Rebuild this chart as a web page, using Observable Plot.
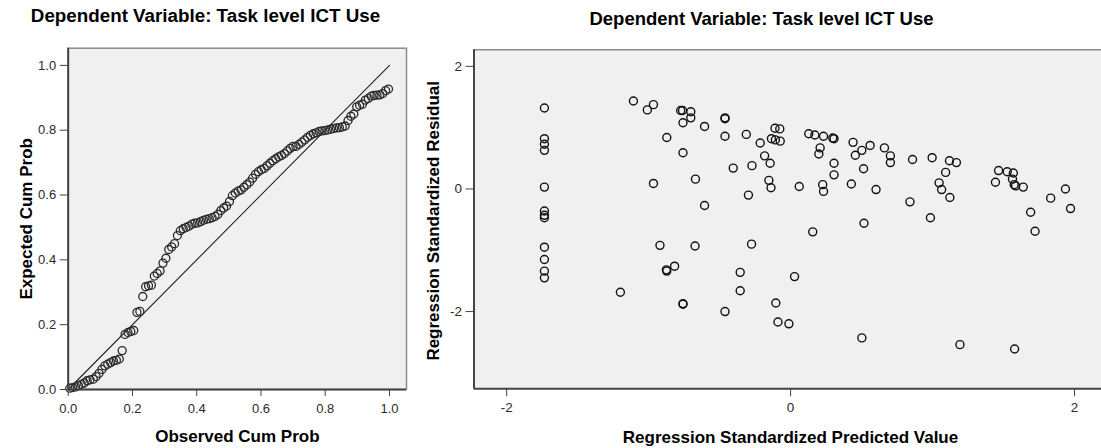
<!DOCTYPE html>
<html>
<head>
<meta charset="utf-8">
<script src="https://cdn.jsdelivr.net/npm/d3@7"></script>
<script src="https://cdn.jsdelivr.net/npm/@observablehq/plot@0.6"></script>
<style>
  html, body { margin: 0; padding: 0; background: #fff; }
  #wrap { position: relative; width: 1101px; height: 448px; overflow: hidden; background: #fff; }
  #left { position: absolute; left: 0; top: 0; }
  #right { position: absolute; left: 420px; top: 0; }
</style>
</head>
<body>
<div id="wrap"><div id="left"></div><div id="right"></div></div>
<script>
const chartTitle = "Dependent Variable: Task level ICT Use";
const ppXLabel = "Observed Cum Prob";
const ppYLabel = "Expected Cum Prob";
const scXLabel = "Regression Standardized Predicted Value";
const scYLabel = "Regression Standardized Residual";

const ppTicks = [0, 0.2, 0.4, 0.6, 0.8, 1.0];
const scXTicks = [-2, 0, 2];
const scYTicks = [-2, 0, 2];
const refLine = [0, 1];

const ppObserved = [
  0.005, 0.014, 0.023, 0.032, 0.041, 0.050, 0.059, 0.068, 0.078, 0.087, 0.096,
  0.105, 0.114, 0.123, 0.132, 0.141, 0.150, 0.159, 0.168,
  0.177, 0.186, 0.195, 0.204,
  0.214, 0.223,
  0.232, 0.241, 0.250, 0.259, 0.268, 0.277, 0.286, 0.295, 0.304, 0.313, 0.322, 0.331, 0.340,
  0.349, 0.358, 0.367, 0.376, 0.385, 0.394, 0.403, 0.412, 0.421, 0.430, 0.439, 0.448, 0.457, 0.466, 0.475, 0.484, 0.493, 0.502,
  0.511, 0.520, 0.529, 0.538, 0.547, 0.556, 0.565, 0.574, 0.583, 0.592, 0.601, 0.610, 0.619, 0.628, 0.637, 0.646, 0.655, 0.664, 0.673, 0.682, 0.691, 0.700,
  0.709, 0.718, 0.727, 0.736, 0.745, 0.754, 0.763, 0.772, 0.781, 0.790, 0.799, 0.808, 0.817, 0.826, 0.835, 0.844, 0.853, 0.862, 0.871,
  0.880, 0.889, 0.898, 0.907, 0.916, 0.925, 0.934, 0.943, 0.952, 0.961, 0.970, 0.979, 0.988, 0.997
];
const ppExpected = [
  0.004, 0.006, 0.008, 0.012, 0.016, 0.020, 0.027, 0.030, 0.032, 0.040, 0.050,
  0.062, 0.073, 0.078, 0.083, 0.088, 0.090, 0.094, 0.120,
  0.170, 0.176, 0.179, 0.182,
  0.238, 0.241,
  0.287, 0.317, 0.320, 0.322, 0.350, 0.358, 0.366, 0.390, 0.405, 0.432, 0.440, 0.450, 0.475,
  0.490, 0.496, 0.500, 0.504, 0.510, 0.513, 0.514, 0.518, 0.522, 0.525, 0.527, 0.530, 0.534, 0.540, 0.552, 0.560, 0.566, 0.580,
  0.598, 0.606, 0.612, 0.616, 0.624, 0.632, 0.640, 0.652, 0.664, 0.672, 0.678, 0.682, 0.690, 0.698, 0.706, 0.712, 0.718, 0.722, 0.728, 0.736, 0.744, 0.750,
  0.750, 0.756, 0.763, 0.770, 0.778, 0.784, 0.789, 0.792, 0.796, 0.798, 0.799, 0.801, 0.803, 0.805, 0.807, 0.808, 0.810, 0.813, 0.830,
  0.843, 0.850, 0.872, 0.877, 0.880, 0.893, 0.898, 0.905, 0.907, 0.908, 0.909, 0.913, 0.922, 0.927
];

const predictedValues = [
  -1.734, -1.734, -1.734, -1.734, -1.734, -1.734, -1.734, -1.734, -1.734, -1.734, -1.734, -1.734,
  -1.107, -1.009, -0.966, -0.966, -0.872, -0.920, -0.872, -0.875, -0.817, -1.199,
  -0.774, -0.761, -0.703, -0.703, -0.758, -0.758, -0.606, -0.670, -0.606, -0.673, -0.758, -0.758,
  -0.462, -0.462, -0.462, -0.404, -0.312, -0.272, -0.297, -0.275, -0.355, -0.355, -0.462,
  -0.214, -0.183, -0.144, -0.153, -0.138, -0.135, -0.110, -0.076, -0.107, -0.073, -0.104, -0.089, -0.012, 0.028, 0.061,
  0.128, 0.171, 0.232, 0.297, 0.306, 0.208, 0.199, 0.306, 0.306, 0.226, 0.232, 0.156,
  0.440, 0.502, 0.560, 0.456, 0.514, 0.428, 0.602, 0.517, 0.502,
  0.661, 0.703, 0.703, 0.859, 0.841, 0.997, 0.985,
  1.119, 1.168, 1.092, 1.046, 1.064, 1.122, 1.193,
  1.443, 1.465, 1.526, 1.569, 1.563, 1.575, 1.585, 1.639, 1.691, 1.722, 1.578, 1.832, 1.936, 1.972
];
const residualValues = [
  1.32, 0.82, 0.73, 0.63, 0.03, -0.36, -0.43, -0.47, -0.95, -1.15, -1.34, -1.45,
  1.435, 1.29, 1.375, 0.09, 0.84, -0.92, -1.34, -1.32, -1.26, -1.685,
  1.28, 1.28, 1.26, 1.16, 1.08, 0.59, 1.02, 0.16, -0.27, -0.93, -1.87, -1.88,
  1.16, 1.145, 0.86, 0.34, 0.89, 0.38, -0.10, -0.90, -1.36, -1.66, -2.0,
  0.75, 0.54, 0.42, 0.14, 0.02, 0.82, 0.99, 0.98, 0.80, 0.78, -1.86, -2.17, -2.20, -1.43, 0.04,
  0.90, 0.88, 0.86, 0.83, 0.82, 0.67, 0.57, 0.42, 0.23, 0.07, -0.04, -0.70,
  0.76, 0.63, 0.71, 0.55, 0.33, 0.08, -0.01, -0.56, -2.43,
  0.67, 0.54, 0.43, 0.48, -0.21, 0.51, -0.47,
  0.46, 0.43, 0.27, 0.10, -0.01, -0.14, -2.54,
  0.11, 0.30, 0.28, 0.26, 0.16, 0.07, 0.05, 0.03, -0.38, -0.69, -2.61, -0.15, 0.0, -0.32
];

const FONT = "'Liberation Sans', Arial, Helvetica, sans-serif";
const BG = "#f0f0f0";
const AXIS = "#444";
const BORDER = "#8c8c8c";
const TICKTXT = "#2b2b2b";

const ppData = ppObserved.map((x, i) => ({x, y: ppExpected[i]}));
const scData = predictedValues.map((x, i) => ({x, y: residualValues[i]}));

// ---------- Left: P-P plot ----------
const ppDom = [0, 1.053];
const left = Plot.plot({
  width: 420, height: 448,
  marginLeft: 67.7, marginRight: 14, marginTop: 47.7, marginBottom: 59,
  style: {fontFamily: FONT, background: "#fff", overflow: "visible"},
  x: {domain: ppDom},
  y: {domain: ppDom},
  marks: [
    Plot.frame({fill: BG, stroke: BORDER, strokeWidth: 1.5}),
    Plot.line(refLine, {x: d => d, y: d => d, stroke: "#222", strokeWidth: 1.1}),
    Plot.dot(ppData, {x: "x", y: "y", r: 4, stroke: "#2a2a2a", strokeWidth: 1.3, fill: "none"}),
    Plot.ruleX([ppDom[0]], {stroke: AXIS, strokeWidth: 2}),
    Plot.ruleY([ppDom[0]], {stroke: AXIS, strokeWidth: 2}),
    Plot.axisX({ticks: ppTicks, tickFormat: d3.format(".1f"), tickSize: 7, tickPadding: 7, fontSize: 13, color: TICKTXT, stroke: AXIS, label: null}),
    Plot.axisY({ticks: ppTicks, tickFormat: d3.format(".1f"), tickSize: 8, tickPadding: 4, fontSize: 13, color: TICKTXT, stroke: AXIS, label: null}),
    Plot.text([chartTitle], {frameAnchor: "top-left", dx: 137.3, dy: -32, text: d => d, fontSize: 18.8, fontWeight: "bold", fill: "#000", textAnchor: "middle", lineAnchor: "middle"}),
    Plot.text([ppXLabel], {frameAnchor: "bottom", dy: 47, text: d => d, fontSize: 17, fontWeight: "bold", fill: "#000", textAnchor: "middle", lineAnchor: "middle"}),
    Plot.text([ppYLabel], {frameAnchor: "left", dx: -42, text: d => d, fontSize: 17, fontWeight: "bold", fill: "#000", rotate: -90, textAnchor: "middle", lineAnchor: "middle"})
  ]
});
document.getElementById("left").appendChild(left);

// ---------- Right: residual scatter ----------
const scX = [-2.23, 2.19];
const scY = [-3.26, 2.27];
const right = Plot.plot({
  width: 681, height: 448,
  marginLeft: 53.5, marginRight: 0, marginTop: 49.3, marginBottom: 59.7,
  style: {fontFamily: FONT, background: "#fff", overflow: "visible"},
  x: {domain: scX},
  y: {domain: scY},
  marks: [
    Plot.frame({fill: BG, stroke: null}),
    Plot.ruleY([scY[1]], {stroke: BORDER, strokeWidth: 1.5}),
    Plot.dot(scData, {x: "x", y: "y", r: 4, stroke: "#111", strokeWidth: 1.4, fill: "none"}),
    Plot.ruleX([scX[0]], {stroke: AXIS, strokeWidth: 2}),
    Plot.ruleY([scY[0]], {stroke: AXIS, strokeWidth: 2}),
    Plot.axisX({ticks: scXTicks, tickFormat: d => String(d), tickSize: 8, tickPadding: 6, fontSize: 13.5, color: TICKTXT, stroke: AXIS, label: null}),
    Plot.axisY({ticks: scYTicks, tickFormat: d => String(d), tickSize: 8, tickPadding: 4, fontSize: 13.5, color: TICKTXT, stroke: AXIS, label: null}),
    Plot.text([chartTitle], {frameAnchor: "top-left", dx: 287.5, dy: -30.3, text: d => d, fontSize: 18.5, fontWeight: "bold", fill: "#000", textAnchor: "middle", lineAnchor: "middle"}),
    Plot.text([scXLabel], {frameAnchor: "bottom-left", dx: 316.5, dy: 48.7, text: d => d, fontSize: 17, fontWeight: "bold", fill: "#000", textAnchor: "middle", lineAnchor: "middle"}),
    Plot.text([scYLabel], {frameAnchor: "left", dx: -40.5, dy: 1.5, text: d => d, fontSize: 17, fontWeight: "bold", fill: "#000", rotate: -90, textAnchor: "middle", lineAnchor: "middle"})
  ]
});
document.getElementById("right").appendChild(right);
</script>
</body>
</html>
